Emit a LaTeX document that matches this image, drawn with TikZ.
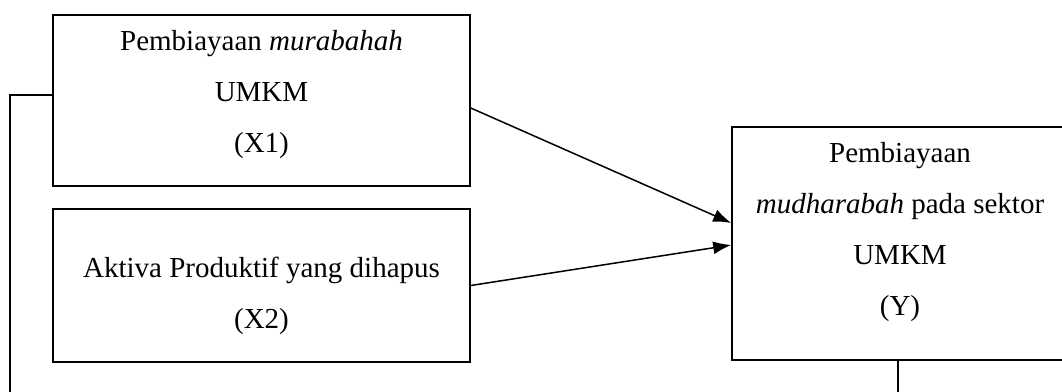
\documentclass[tikz,border=0pt]{standalone}
\usepackage{fontspec}
\setmainfont{Liberation Serif}
\usetikzlibrary{arrows.meta}
\tikzset{
  box/.style={draw, line width=1.6pt, inner sep=0pt},
  txt/.style={align=center, inner sep=0pt, font=\fontsize{29}{51}\selectfont},
  conn/.style={line width=1.5pt},
  arr/.style={line width=1.5pt, -{Latex[length=18pt,width=13pt]}}
}
\begin{document}
\begin{tikzpicture}[x=1pt,y=-1pt]
\useasboundingbox (0,0) rectangle (1062,391);
\clip (0,0) rectangle (1062,391);
\fill[white] (0,0) rectangle (1062,391);
% boxes
\node[box, minimum width=417pt, minimum height=171pt] (x1) at (261.5,100.5) {};
\node[box, minimum width=417pt, minimum height=153pt] (x2) at (261.5,285.5) {};
\node[box, minimum width=336pt, minimum height=233pt] (y) at (900,243.5) {};
% texts
\node[txt] (x1t) at (261.5,95) {Pembiayaan \textit{murabahah}\\UMKM\\(X1)};
\node[txt] (x2t) at (261.5,296) {Aktiva Produktif yang dihapus\\(X2)};
\node[txt] (yt) at (900,232) {Pembiayaan\\\textit{mudharabah} pada sektor\\UMKM\\(Y)};
% free ends
\coordinate (lb) at (10,392);
\coordinate (rb) at (898,392);
% connectors
\draw[arr] ([yshift=-7.5pt]x1.east) -- ([yshift=20.5pt]y.west);
\draw[arr] (x2.east) -- ([yshift=-1.5pt]y.west);
\draw[conn] ([yshift=5.5pt]x1.west) -| (lb);
\draw[conn] (y.south -| rb) -- (rb);
\end{tikzpicture}
\end{document}
